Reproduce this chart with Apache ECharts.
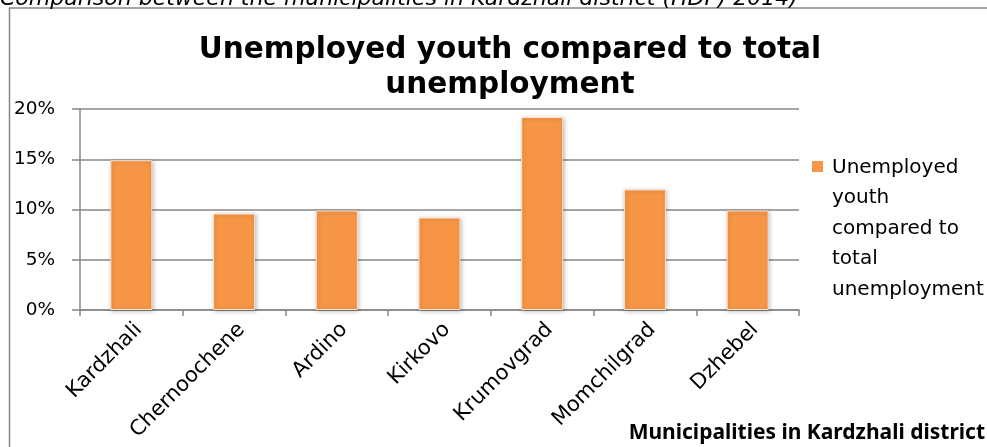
<!DOCTYPE html>
<html>
<head>
<meta charset="utf-8">
<title>Unemployed youth compared to total unemployment</title>
<script src="https://cdn.jsdelivr.net/npm/echarts@6/dist/echarts.min.js"></script>
<style>
  html, body { margin: 0; padding: 0; background: #fff; }
  #chart { width: 987px; height: 447px; }
</style>
</head>
<body>
<div id="chart"></div>
<script>
// Municipalities of Kardzhali district
const municipalities = ['Kardzhali', 'Chernoochene', 'Ardino', 'Kirkovo', 'Krumovgrad', 'Momchilgrad', 'Dzhebel'];
// Share of unemployed youth in total unemployment (fraction)
const youthShare = [0.149, 0.096, 0.099, 0.092, 0.192, 0.120, 0.099];
// Value axis ticks
const yTicks = [0, 0.05, 0.10, 0.15, 0.20];

const seriesName = 'Unemployed youth compared to total unemployment';
const legendLines = ['Unemployed', 'youth', 'compared to', 'total', 'unemployment'];
const axisTitle = 'Municipalities in Kardzhali district';

const chart = echarts.init(document.getElementById('chart'), null, { renderer: 'canvas' });

const gridColor = '#878787';
const barColor = '#F79646';

chart.setOption({
  animation: false,
  backgroundColor: '#ffffff',
  title: {
    text: 'Unemployed youth compared to total\nunemployment',
    left: 505,
    top: 28,
    textAlign: 'center',
    textStyle: {
      fontFamily: 'DejaVu Sans',
      fontWeight: 'bold',
      fontSize: 29.5,
      lineHeight: 35,
      color: '#000'
    }
  },
  grid: {
    left: 80, right: 188, top: 109, bottom: 137,
    containLabel: false,
    outerBoundsMode: 'none'
  },
  xAxis: {
    type: 'category',
    data: municipalities,
    axisLine: { show: true, lineStyle: { color: gridColor, width: 1.5 } },
    axisTick: { show: true, length: 6, alignWithLabel: false, lineStyle: { color: gridColor, width: 1.5 } },
    axisLabel: {
      rotate: 45,
      interval: 0,
      margin: 9,
      verticalAlign: 'top',
      fontFamily: 'DejaVu Sans',
      fontSize: 21,
      color: '#000'
    }
  },
  yAxis: {
    type: 'value',
    min: yTicks[0],
    max: yTicks[yTicks.length - 1],
    interval: yTicks[1] - yTicks[0],
    axisLine: { show: true, lineStyle: { color: gridColor, width: 1.5 } },
    axisTick: { show: true, length: 8, lineStyle: { color: gridColor, width: 1.5 } },
    splitLine: { show: true, lineStyle: { color: gridColor, width: 1.5 } },
    axisLabel: {
      margin: 25,
      fontFamily: 'DejaVu Sans',
      fontSize: 18.5,
      color: '#000',
      formatter: v => Math.round(v * 100) + '%'
    }
  },
  series: [{
    name: seriesName,
    type: 'bar',
    data: youthShare,
    barWidth: 42,
    itemStyle: {
      color: barColor,
      borderColor: '#fbe3cf',
      borderWidth: 1,
      shadowColor: 'rgba(0,0,0,0.25)',
      shadowBlur: 4,
      shadowOffsetX: 1,
      shadowOffsetY: 1
    }
  }],
  graphic: [
    // outer chart frame
    {
      type: 'rect',
      shape: { x: 9.5, y: 8, width: 1000, height: 460 },
      style: { fill: 'none', stroke: gridColor, lineWidth: 1.5 },
      silent: true
    },
    // caption above the frame (runs off the top edge)
    {
      type: 'text',
      x: 0,
      y: 10,
      style: {
        text: 'Comparison between the municipalities in Kardzhali district (HDP) 2014)',
        fontFamily: 'DejaVu Sans',
        fontStyle: 'italic',
        fontSize: 22,
        verticalAlign: 'bottom',
        fill: '#000'
      },
      silent: true
    },
    // category axis title
    {
      type: 'text',
      x: 985,
      y: 433,
      style: {
        text: axisTitle,
        fontFamily: 'Liberation Sans Narrow, Noto Sans',
        fontWeight: 'bold',
        fontSize: 21,
        align: 'right',
        verticalAlign: 'middle',
        fill: '#000'
      },
      silent: true
    },
    // legend swatch
    {
      type: 'rect',
      shape: { x: 812, y: 161, width: 11, height: 11 },
      style: { fill: barColor },
      silent: true
    },
    // legend label
    {
      type: 'text',
      left: 832,
      top: 152,
      style: {
        text: legendLines.join('\n'),
        fontFamily: 'DejaVu Sans',
        fontSize: 20,
        lineHeight: 30.6,
        fill: '#000'
      },
      silent: true
    }
  ]
});
</script>
</body>
</html>
